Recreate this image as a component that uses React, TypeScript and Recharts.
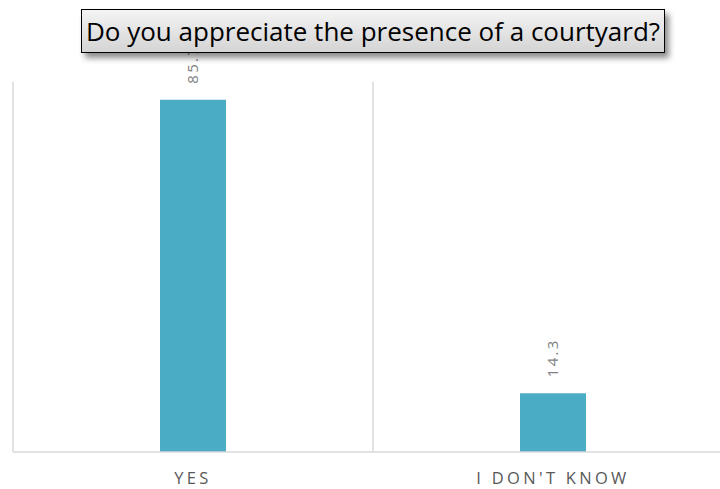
import React from 'react';
import { BarChart, Bar, XAxis, YAxis, CartesianGrid, LabelList } from 'recharts';

const answers = ['YES', "I DON'T KNOW"];
const percents = [85.7, 14.3];
// vertical grid lines sit on the category boundaries (0 .. n)
const boundaries = [0, 1, 2];

const data = answers.map((answer, i) => ({ answer, value: percents[i] }));

const FONT = '"Open Sans", "Noto Sans", sans-serif';

function RotatedLabel(props: any) {
  const { x, y, width, value } = props;
  const cx = Number(x) + Number(width) / 2 - 1;
  const cy = Number(y) - 16;
  return (
    <text
      x={cx}
      y={cy}
      transform={`rotate(-90, ${cx}, ${cy})`}
      textAnchor="start"
      dominantBaseline="central"
      fill="#7f7f7f"
      fontSize={15}
      letterSpacing={2.3}
      fontFamily={FONT}
    >
      {value}
    </text>
  );
}

const boundaryLines = ({ offset }: any) =>
  boundaries.map((b) => offset.left + (b * offset.width) / answers.length);

export default function App() {
  return (
    <div style={{ position: 'absolute', left: 0, top: 0, width: 720, height: 489, overflow: 'hidden', background: '#fff' }}>
      <BarChart
        width={745}
        height={489}
        data={data}
        margin={{ top: 82, right: 12, bottom: 7, left: 13 }}
      >
        <CartesianGrid
          horizontal={false}
          verticalCoordinatesGenerator={boundaryLines}
          stroke="#d9d9d9"
          strokeWidth={1.5}
        />
        <XAxis
          dataKey="answer"
          axisLine={{ stroke: '#d9d9d9', strokeWidth: 1.5 }}
          tickLine={false}
          height={30}
          tickMargin={14}
          tick={{ fill: '#595959', fontSize: 16.5, fontFamily: FONT, letterSpacing: 3.3 }}
        />
        <YAxis hide domain={[0, 90]} />
        <Bar dataKey="value" fill="#4bacc6" barSize={66} isAnimationActive={false}>
          <LabelList dataKey="value" content={RotatedLabel} />
        </Bar>
      </BarChart>
      <div
        style={{
          position: 'absolute',
          left: 81,
          top: 9,
          width: 584,
          height: 44,
          boxSizing: 'border-box',
          border: '1.5px solid #000',
          background: 'linear-gradient(#f4f4f4, #d4d4d4)',
          boxShadow: '4px 5px 6px rgba(0,0,0,0.45)',
          fontFamily: FONT,
          fontSize: 26,
          color: '#000',
          display: 'flex',
          alignItems: 'center',
          justifyContent: 'center',
          whiteSpace: 'nowrap',
        }}
      >
        Do you appreciate the presence of a courtyard?
      </div>
    </div>
  );
}
